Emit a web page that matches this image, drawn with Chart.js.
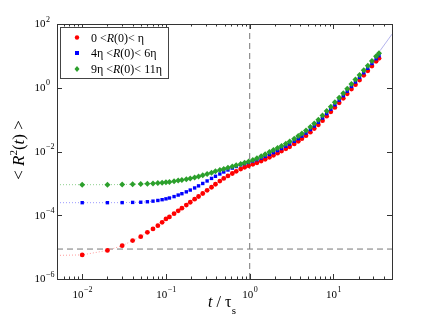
<!DOCTYPE html>
<html>
<head>
<meta charset="utf-8">
<script src="https://cdn.jsdelivr.net/npm/chart.js@4/dist/chart.umd.min.js"></script>
<style>
  html, body { margin: 0; padding: 0; background: #fff; }
  #wrap { width: 432px; height: 318px; }
</style>
</head>
<body>
<div id="wrap"><canvas id="msdChart" width="432" height="318"></canvas></div>
<script>
// time t / tau_s
const tValues = [0.01, 0.02, 0.03, 0.04, 0.05, 0.06, 0.07, 0.08, 0.09, 0.1,
  0.11, 0.125, 0.14, 0.155, 0.175, 0.195, 0.22, 0.245, 0.275, 0.31, 0.35, 0.39, 0.44, 0.49, 0.55, 0.62, 0.69, 0.78, 0.87, 0.97,
  1.09, 1.22, 1.37, 1.53, 1.72, 1.92, 2.15, 2.4, 2.7, 3.0, 3.4, 3.8, 4.2, 4.7, 5.3, 5.9, 6.6, 7.4, 8.3, 9.3,
  10.4, 11.7, 13.1, 14.6, 16.4, 18.3, 20.5, 23, 25.7, 28.8, 32.3, 35];

// <R^2(t)> for the three initial separations
const redR = [5.7e-6, 7.9e-6, 1.11e-5, 1.6e-5, 2.13e-5, 2.91e-5, 3.72e-5, 4.72e-5, 5.99e-5, 7.65e-5,
  8.85e-5, 1.12e-4, 1.38e-4, 1.67e-4, 2.09e-4, 2.56e-4, 3.2e-4, 3.88e-4, 4.82e-4, 6.04e-4, 7.55e-4, 9.4e-4, 1.18e-3, 1.43e-3, 1.71e-3, 2.04e-3, 2.39e-3, 2.81e-3, 3.2e-3, 3.56e-3,
  3.97e-3, 4.42e-3, 5.0e-3, 5.69e-3, 6.57e-3, 7.6e-3, 8.85e-3, 1.03e-2, 1.21e-2, 1.41e-2, 1.73e-2, 2.09e-2, 2.52e-2, 3.13e-2, 4.03e-2, 5.22e-2, 6.87e-2, 9.3e-2, 0.128, 0.176,
  0.241, 0.336, 0.465, 0.644, 0.91, 1.25, 1.74, 2.45, 3.39, 4.79, 6.73, 8.35];
const blueR = [2.48e-4, 2.48e-4, 2.49e-4, 2.53e-4, 2.56e-4, 2.65e-4, 2.77e-4, 2.91e-4, 3.08e-4, 3.27e-4,
  3.48e-4, 3.85e-4, 4.3e-4, 4.75e-4, 5.42e-4, 6.17e-4, 7.18e-4, 8.35e-4, 9.93e-4, 1.19e-3, 1.43e-3, 1.67e-3, 1.97e-3, 2.28e-3, 2.63e-3, 3.02e-3, 3.39e-3, 3.8e-3, 4.18e-3, 4.55e-3,
  5.0e-3, 5.53e-3, 6.21e-3, 7.02e-3, 8.05e-3, 9.24e-3, 1.07e-2, 1.24e-2, 1.46e-2, 1.71e-2, 2.09e-2, 2.52e-2, 3.04e-2, 3.78e-2, 4.86e-2, 6.3e-2, 8.28e-2, 0.112, 0.154, 0.212,
  0.291, 0.406, 0.561, 0.777, 1.1, 1.51, 2.1, 2.95, 4.08, 5.78, 8.11, 10.1];
const greenR = [9.1e-4, 9.1e-4, 9.2e-4, 9.4e-4, 9.6e-4, 9.8e-4, 1.0e-3, 1.02e-3, 1.05e-3, 1.08e-3,
  1.11e-3, 1.16e-3, 1.22e-3, 1.27e-3, 1.35e-3, 1.43e-3, 1.53e-3, 1.65e-3, 1.8e-3, 1.97e-3, 2.16e-3, 2.38e-3, 2.61e-3, 2.85e-3, 3.1e-3, 3.41e-3, 3.72e-3, 4.09e-3, 4.46e-3, 4.86e-3,
  5.42e-3, 6.17e-3, 7.1e-3, 8.2e-3, 9.6e-3, 1.11e-2, 1.29e-2, 1.5e-2, 1.76e-2, 2.06e-2, 2.52e-2, 3.04e-2, 3.67e-2, 4.55e-2, 5.86e-2, 7.55e-2, 9.93e-2, 0.135, 0.185, 0.254,
  0.348, 0.486, 0.673, 0.93, 1.31, 1.81, 2.52, 3.54, 4.9, 6.92, 9.7, 12.1];

// dotted fit curves: value at the left edge, and the tail past the data
const fitStartT = 0.005;
const redStart = 5.5e-6, blueStart = 2.48e-4, greenStart = 9.1e-4;
const tailT = [36, 50];
const tailR = [14.5, 48];

// reference lines
const hLineValue = 8.7e-6; // horizontal dashed
const vLineValue = 1;      // vertical dashed, t = tau_s

const xMin = 0.005, xMax = 50, yMin = 1e-6, yMax = 1e2;
const xMajor = [-2, -1, 0, 1];
const yMajor = [2, 0, -2, -4, -6];

const legendItems = [
  { color: '#ff0000', style: 'circle', parts: [['0 <', ''], ['R', 'italic '], ['(0)< \u03b7', '']] },
  { color: '#0000ff', style: 'rect', parts: [['4\u03b7 <', ''], ['R', 'italic '], ['(0)< 6\u03b7', '']] },
  { color: '#2ca02c', style: 'rectRot', parts: [['9\u03b7 <', ''], ['R', 'italic '], ['(0)< 11\u03b7', '']] }
];

const SERIF = '"Liberation Serif", "DejaVu Serif", serif';

function pts(values){ //build {x,y} points from the arrays
  return tValues.map(function(t, i){ return { x: t, y: values[i] }; });
}

function withStart(start, values){ //dotted fit: starts at left edge then follows data
  return [{ x: fitStartT, y: start }].concat(pts(values));
}

// inside ticks, frame, tick labels, titles and legend
const decorPlugin = {
  id: 'decor',
  afterDraw(chart){
    const ctx = chart.ctx;
    const a = chart.chartArea;
    const xs = chart.scales.x, ys = chart.scales.y;
    ctx.save();
    ctx.strokeStyle = '#333';
    ctx.lineWidth = 1;

    // x ticks top and bottom
    for (let e = -3; e <= 1; e++){
      for (let m = 1; m <= 9; m++){
        const v = m * Math.pow(10, e);
        if (v < xMin || v > xMax) continue;
        const px = Math.round(xs.getPixelForValue(v)) + 0.5;
        const len = (m === 1) ? 5 : 2.5;
        ctx.beginPath();
        ctx.moveTo(px, a.bottom); ctx.lineTo(px, a.bottom - len);
        ctx.moveTo(px, a.top); ctx.lineTo(px, a.top + len);
        ctx.stroke();
      }
    }
    // y ticks left and right
    yMajor.forEach(function(e){
      const py = Math.round(ys.getPixelForValue(Math.pow(10, e))) + 0.5;
      ctx.beginPath();
      ctx.moveTo(a.left, py); ctx.lineTo(a.left + 5, py);
      ctx.moveTo(a.right, py); ctx.lineTo(a.right - 5, py);
      ctx.stroke();
    });

    // frame
    ctx.strokeRect(Math.round(a.left) + 0.5, Math.round(a.top) + 0.5,
      Math.round(a.right - a.left), Math.round(a.bottom - a.top));

    ctx.fillStyle = '#000';
    ctx.textBaseline = 'middle';

    function powLabel(e, x, y, align){
      const base = '10';
      const exp = (e < 0 ? '\u2212' : '') + Math.abs(e);
      ctx.font = '11px ' + SERIF;
      const bw = ctx.measureText(base).width;
      ctx.font = '8px ' + SERIF;
      const ew = ctx.measureText(exp).width;
      let x0 = x;
      if (align === 'center') x0 = x - (bw + ew) / 2;
      ctx.textAlign = 'left';
      ctx.font = '11px ' + SERIF;
      ctx.fillText(base, x0, y);
      ctx.font = '8px ' + SERIF;
      ctx.fillText(exp, x0 + bw + 0.5, y - 5);
    }

    yMajor.forEach(function(e){
      powLabel(e, 34.5, ys.getPixelForValue(Math.pow(10, e)) + 0.5, 'left');
    });
    xMajor.forEach(function(e){
      powLabel(e, xs.getPixelForValue(Math.pow(10, e)), a.bottom + 16, 'center');
    });

    // x title: t / tau_s
    ctx.textBaseline = 'alphabetic';
    ctx.textAlign = 'left';
    let x = 208;
    ctx.font = 'italic 16px ' + SERIF;
    ctx.fillText('t', x, 307); x += ctx.measureText('t').width;
    ctx.font = '16px ' + SERIF;
    ctx.fillText(' / \u03c4', x, 307); x += ctx.measureText(' / \u03c4').width;
    ctx.font = '11px ' + SERIF;
    ctx.fillText('s', x + 0.5, 314);

    // y title: < R^2(t) >
    ctx.save();
    ctx.translate(24, 150);
    ctx.rotate(-Math.PI / 2);
    const yParts = [['< ', '17px '], ['R', 'italic 17px '], ['2', '11px ', -7], ['(', '17px '], ['t', 'italic 17px '], [') >', '17px ']];
    let total = 0;
    yParts.forEach(function(p){ ctx.font = p[1] + SERIF; total += ctx.measureText(p[0]).width; });
    let yx = -total / 2;
    yParts.forEach(function(p){
      ctx.font = p[1] + SERIF;
      ctx.fillText(p[0], yx, p[2] || 0);
      yx += ctx.measureText(p[0]).width;
    });
    ctx.restore();

    // legend box
    ctx.fillStyle = '#fff';
    ctx.fillRect(60.5, 27.5, 108, 51);
    ctx.strokeStyle = '#444';
    ctx.strokeRect(60.5, 27.5, 108, 51);
    const rowsY = [37.5, 53, 69];
    legendItems.forEach(function(item, i){
      const cy = rowsY[i];
      ctx.fillStyle = item.color;
      if (item.style === 'circle'){
        ctx.beginPath(); ctx.arc(77, cy, 2.2, 0, Math.PI * 2); ctx.fill();
      } else if (item.style === 'rect'){
        ctx.fillRect(75, cy - 2, 4, 4);
      } else {
        ctx.beginPath();
        ctx.moveTo(77, cy - 3); ctx.lineTo(79.5, cy); ctx.lineTo(77, cy + 3); ctx.lineTo(74.5, cy);
        ctx.closePath(); ctx.fill();
      }
      ctx.fillStyle = '#000';
      let lx = 91;
      item.parts.forEach(function(p){
        ctx.font = p[1] + '12px ' + SERIF;
        ctx.fillText(p[0], lx, cy + 4);
        lx += ctx.measureText(p[0]).width;
      });
    });
    ctx.restore();
  }
};

const data = {
  datasets: [
    { label: 'green', data: pts(greenR), backgroundColor: '#2ca02c', borderColor: '#2ca02c',
      pointStyle: 'rectRot', pointRadius: 3, borderWidth: 0, showLine: false, order: 1 },
    { label: 'blue', data: pts(blueR), backgroundColor: '#0000ff', borderColor: '#0000ff',
      pointStyle: 'rect', pointRadius: 2.4, borderWidth: 0, showLine: false, order: 2 },
    { label: 'red', data: pts(redR), backgroundColor: '#ff0000', borderColor: '#ff0000',
      pointStyle: 'circle', pointRadius: 2.4, borderWidth: 0, showLine: false, order: 3 },
    { label: 'green fit', data: withStart(greenStart, greenR), showLine: true, pointRadius: 0,
      borderColor: '#8fd08f', borderWidth: 1, borderDash: [1, 2], order: 5 },
    { label: 'blue fit', data: withStart(blueStart, blueR), showLine: true, pointRadius: 0,
      borderColor: '#9a9aff', borderWidth: 1, borderDash: [1, 2], order: 5 },
    { label: 'red fit', data: withStart(redStart, redR), showLine: true, pointRadius: 0,
      borderColor: '#ff9a9a', borderWidth: 1, borderDash: [1, 2], order: 5 },
    { label: 'tail', data: tailT.map(function(t, i){ return { x: t, y: tailR[i] }; }), showLine: true, pointRadius: 0,
      borderColor: '#b4b4ec', borderWidth: 1, order: 5 },
    { label: 'h', data: [{ x: xMin, y: hLineValue }, { x: xMax, y: hLineValue }], showLine: true, pointRadius: 0,
      borderColor: '#777', borderWidth: 1, borderDash: [6, 4], order: 6 },
    { label: 'v', data: [{ x: vLineValue, y: yMin }, { x: vLineValue, y: yMax }], showLine: true, pointRadius: 0,
      borderColor: '#777', borderWidth: 1, borderDash: [6, 4], order: 6 }
  ]
};

const config = {
  type: 'scatter',
  data: data,
  options: {
    responsive: false,
    animation: false,
    layout: { padding: { left: 57, right: 40, top: 24, bottom: 39 } },
    plugins: { legend: { display: false }, tooltip: { enabled: false } },
    scales: {
      x: { type: 'logarithmic', min: xMin, max: xMax, display: false },
      y: { type: 'logarithmic', min: yMin, max: yMax, display: false }
    }
  },
  plugins: [decorPlugin]
};

const msdChart = new Chart(document.getElementById('msdChart'), config);
</script>
</body>
</html>
